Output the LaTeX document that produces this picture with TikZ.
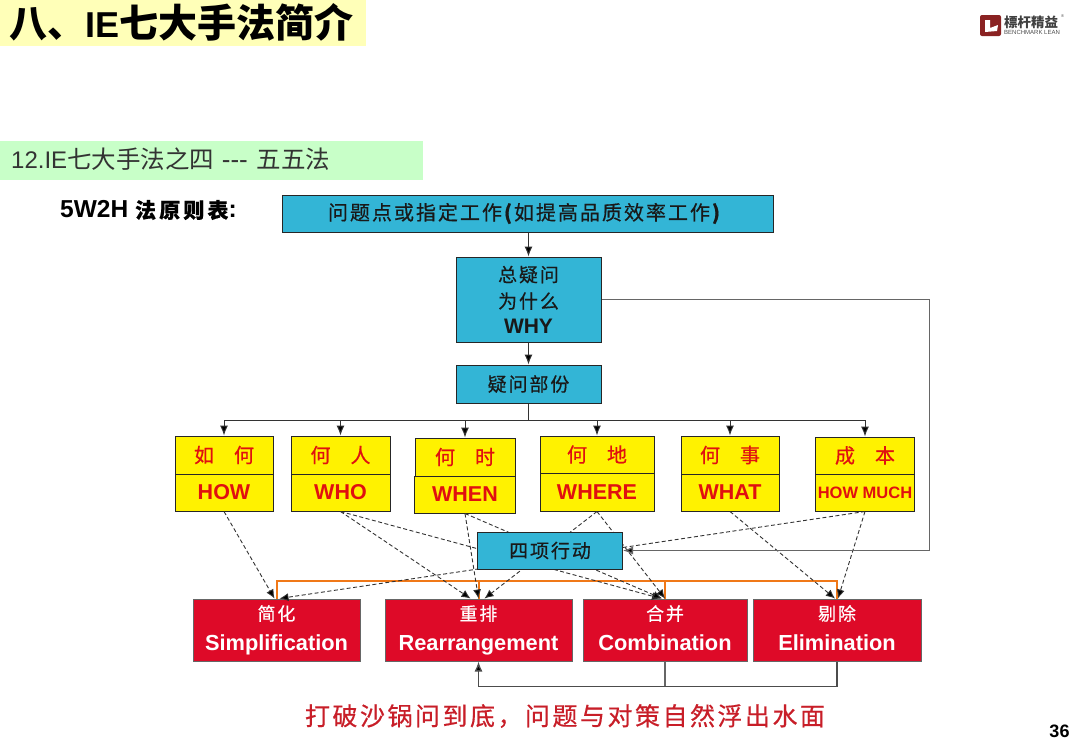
\documentclass[tikz,border=0pt]{standalone}
\usepackage{fontspec}
\setmainfont{Liberation Sans}
\newfontfamily\cjk{Noto Sans CJK SC}
\newfontfamily\cjkb[FakeBold=0.5]{Noto Sans CJK SC}
\newfontfamily\cjksp[LetterSpace=10,FakeBold=0.5]{Noto Sans CJK SC}
\newfontfamily\cjkwide[LetterSpace=15,FakeBold=0.5]{Noto Sans CJK SC}
\usetikzlibrary{arrows.meta}
\definecolor{bluebox}{HTML}{33B5D6}
\definecolor{redbox}{HTML}{DE0A28}
\definecolor{redtext}{HTML}{E01010}
\definecolor{slogancol}{HTML}{C81E28}
\definecolor{orangeline}{HTML}{F07818}
\definecolor{titlebg}{HTML}{FFFFB8}
\definecolor{subbg}{HTML}{C8FFC8}
\definecolor{logored}{HTML}{8A2222}
\newcommand{\fs}[1]{\fontsize{#1}{#1}\selectfont}
\newcommand{\redlabel}[2]{{\cjksp\fs{18}\mdseries #1}\\[8pt]\vphantom{Rgp}#2}
\tikzset{
  boxbase/.style={draw=black!85,line width=1pt,inner sep=0pt,align=center},
  bluenode/.style={boxbase,fill=bluebox,text=black!90},
  yellownode/.style={boxbase,fill=yellow,text=redtext},
  rednode/.style={boxbase,draw=black!60,fill=redbox,text=white,font=\bfseries\fs{21.8}},
  solidarrow/.style={draw=black!80,line width=1pt,-{Latex[length=10pt,width=8pt,fill=black]}},
  dasharrow/.style={draw=black!80,line width=0.9pt,dash pattern=on 4pt off 2.5pt,-{Latex[length=9pt,width=8pt,fill=black]}},
  feedline/.style={draw=black!60,line width=1.3pt},
  orangebus/.style={draw=orangeline,line width=2pt},
}
\begin{document}
\begin{tikzpicture}[x=1pt,y=-1pt]
\useasboundingbox[fill=white] (0,0) rectangle (1080,748);
% header
\fill[titlebg] (0,0) rectangle (366,46);
\node[anchor=west,inner sep=0pt,font=\bfseries\fs{36}] (title) at (9,22) {{\cjk\fs{38}八、}IE{\cjk\fs{39}七大手法简介}};
\fill[subbg] (0,141) rectangle (423,180);
\node[anchor=west,inner sep=0pt,text=black!80,font=\fs{24}] (sub) at (11,159) {12.IE{\cjk\fs{24.5}七大手法之四}\hspace{1pt} {\fs{26}-{}-{}-} \hspace{2pt}{\cjk\fs{24.5}五五法}};
\node[anchor=west,inner sep=0pt,font=\bfseries\fs{24.5}] (lead) at (60,210) {5W2H {\cjkwide\fs{21}法原则表}:};
% logo
\fill[logored,rounded corners=2pt] (980,15) rectangle (1001,36);
\fill[white] (985,20) -- (990,20) -- (990,28) -- (998,25) -- (997,31) -- (985,32) -- cycle;
\node[anchor=west,inner sep=0pt,text=black!75,font=\bfseries\fs{13.5}] (logocn) at (1004,22) {\cjk 標杆精益};
\node[anchor=west,inner sep=0pt,text=black!70,font=\fs{6}] (logoen) at (1004,32) {BENCHMARK LEAN};
\node[anchor=west,inner sep=0pt,text=black!70,font=\fs{4}] (logor) at (1061,16) {®};
% page number
\node[inner sep=0pt,font=\bfseries\fs{18}] (page) at (1059.5,731) {36};
% boxes
\node[bluenode,minimum width=491pt,minimum height=37pt,font=\cjksp\fs{20}] (top) at (527.5,213.5) {\hspace{-5pt}问题点或指定工作\textbf{(}如提高品质效率工作\textbf{)}};
\node[bluenode,minimum width=145pt,minimum height=85pt] (why) at (528.5,299.5) {{\cjksp\fs{19}总疑问}\\[8pt]{\cjksp\fs{19}为什么}\\[8pt]{\bfseries\fs{21}WHY}};
\node[bluenode,minimum width=145pt,minimum height=38pt,font=\cjksp\fs{19}] (doubt) at (528.5,384) {疑问部份};
% yellow columns
\node[yellownode,minimum width=98pt,minimum height=38pt,font=\cjkb\fs{20}] (howc) at (224,455) {如\hspace{1em}何};
\node[yellownode,minimum width=98pt,minimum height=37pt,font=\bfseries\fs{21.5}] (howe) at (224,492.5) {HOW};
\node[yellownode,minimum width=99pt,minimum height=38pt,font=\cjkb\fs{20}] (whoc) at (340.5,455) {何\hspace{1em}人};
\node[yellownode,minimum width=99pt,minimum height=37pt,font=\bfseries\fs{21.5}] (whoe) at (340.5,492.5) {WHO};
\node[yellownode,minimum width=100pt,minimum height=38pt,font=\cjkb\fs{20}] (whenc) at (465,457) {何\hspace{1em}时};
\node[yellownode,minimum width=101pt,minimum height=37pt,font=\bfseries\fs{21.5}] (whene) at (465,494.5) {WHEN};
\node[yellownode,minimum width=114pt,minimum height=37pt,font=\cjkb\fs{20}] (wherec) at (597,454.5) {何\hspace{1em}地};
\node[yellownode,minimum width=114pt,minimum height=38pt,font=\bfseries\fs{21.5}] (wheree) at (597,492) {WHERE};
\node[yellownode,minimum width=98pt,minimum height=38pt,font=\cjkb\fs{20}] (whatc) at (730,455) {何\hspace{1em}事};
\node[yellownode,minimum width=98pt,minimum height=37pt,font=\bfseries\fs{21.5}] (whate) at (730,492.5) {WHAT};
\node[yellownode,minimum width=99pt,minimum height=37pt,font=\cjkb\fs{20}] (muchc) at (865,455.5) {成\hspace{1em}本};
\node[yellownode,minimum width=99pt,minimum height=37pt,font=\bfseries\fs{16.5}] (muche) at (865,492.5) {HOW MUCH};
% red boxes
\node[rednode,minimum width=167pt,minimum height=62pt] (simp) at (276.5,630) {\redlabel{简化}{Simplification}};
\node[rednode,minimum width=187pt,minimum height=62pt] (rear) at (478.5,630) {\redlabel{重排}{Rearrangement}};
\node[rednode,minimum width=164pt,minimum height=62pt] (comb) at (665,630) {\redlabel{合并}{Combination}};
\node[rednode,minimum width=168pt,minimum height=62pt] (elim) at (837,630) {\redlabel{剔除}{Elimination}};
% orange bus
\draw[orangebus] (simp.north) -- ++(0,-18) -- ([yshift=18pt]elim.north) -- (elim.north);
\draw[orangebus] (rear.north) -- ++(0,-18);
\draw[orangebus] (comb.north) -- ++(0,-18);
% dashed
\draw[dasharrow] (howe.south) -- ([xshift=-2pt]simp.north);
\draw[dasharrow] (whoe.south) -- ([xshift=-8pt]rear.north);
\draw[dasharrow] (whoe.south) -- ([xshift=-4pt]comb.north);
\draw[dasharrow] (whene.south) -- (rear.north);
\draw[dasharrow] (whene.south) -- ([xshift=-3pt]comb.north);
\draw[dasharrow] (wheree.south) -- ([xshift=6pt]rear.north);
\draw[dasharrow] (wheree.south) -- (comb.north);
\draw[dasharrow] (whate.south) -- ([xshift=-2pt]elim.north);
\draw[dasharrow] (muche.south) -- ([xshift=1pt]elim.north);
\draw[dasharrow] (muche.south) -- ([xshift=3pt]simp.north);
% four actions
\node[bluenode,minimum width=145pt,minimum height=37pt,font=\cjksp\fs{19}] (four) at (550,550.5) {四项行动};
% solid
\draw[solidarrow] (top.south -| why.north) -- (why.north);
\draw[solidarrow] (why.south) -- (doubt.north);
\foreach \t in {howc,whoc,whenc,wherec,whatc,muchc}
  \draw[solidarrow] (doubt.south) -- ++(0,17) -| (\t.north);
\draw[feedline,-{Latex[length=10pt,width=8pt,fill=black]}] (why.east) -- ++(328,0) |- (four.east);
\draw[feedline] (comb.south) -- ++(0,25);
\draw[feedline,-{Latex[length=10pt,width=8pt,fill=black]},draw=black!70] (elim.south) -- ++(0,25) -| (rear.south);
% slogan
\node[inner sep=0pt,text=slogancol,font=\cjksp\fs{25}] (slogan) at (565,716) {打破沙锅问到底，问题与对策自然浮出水面};
\end{tikzpicture}
\end{document}
